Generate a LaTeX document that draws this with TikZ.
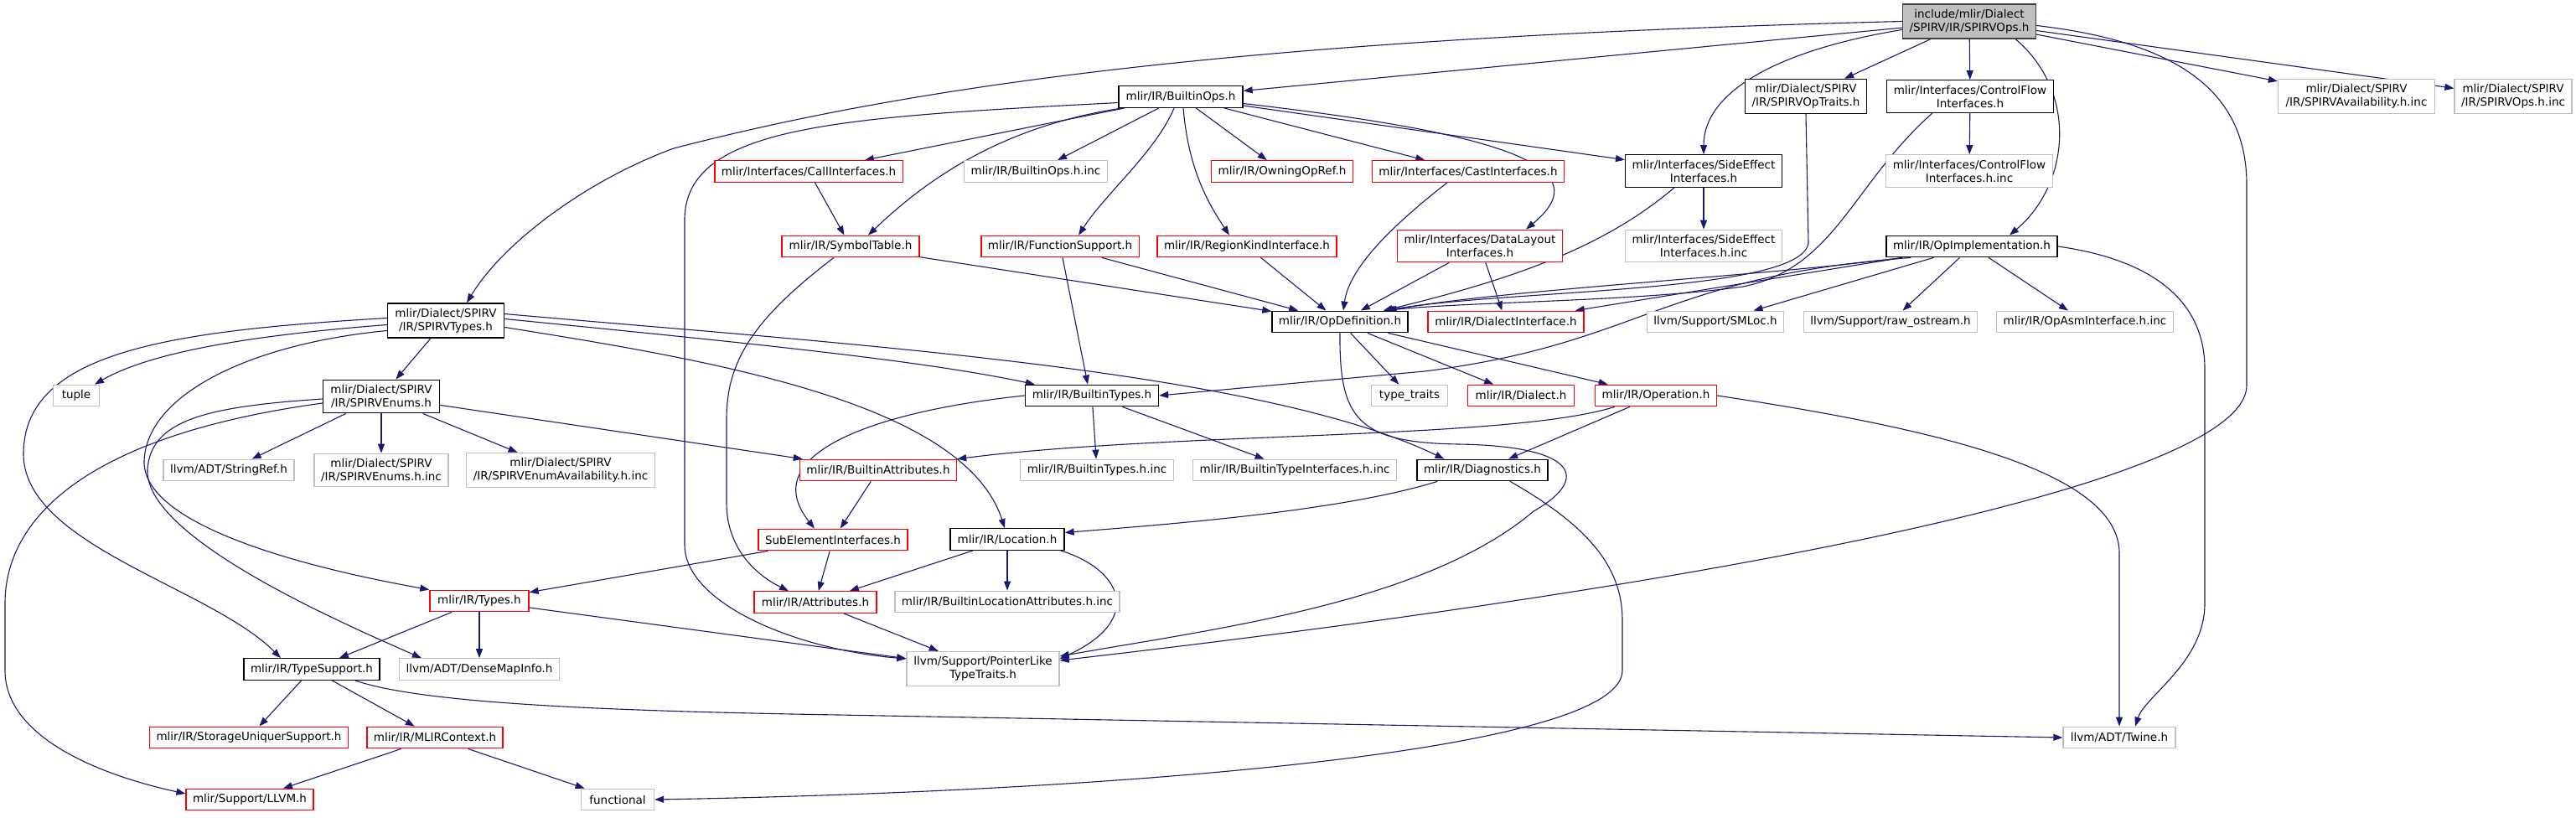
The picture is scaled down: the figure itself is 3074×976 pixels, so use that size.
\documentclass[tikz,border=0pt]{standalone}
\usepackage{fontspec}
\setmainfont{DejaVu Sans}
\usepackage{xcolor}
\usepackage{tikz}
\usetikzlibrary{arrows.meta,calc}

\definecolor{edgeblue}{HTML}{191970}
\definecolor{grey75}{HTML}{BFBFBF}
\pgfdeclarelayer{bg}
\pgfsetlayers{bg,main}

\begin{document}
\begin{tikzpicture}[x=1pt, y=-1pt,
  font=\fontsize{13.5pt}{16pt}\selectfont,
  file/.style={draw=black, line width=1.3pt, fill=white, align=center,
               inner xsep=8pt, inner ysep=6pt, minimum height=25.5pt},
  cutfile/.style={file, draw=red},
  sysfile/.style={file, draw=grey75},
  mainfile/.style={file, fill=grey75, draw=black!75},
  incl/.style={draw=edgeblue, line width=1.1pt, -{Triangle[length=11pt,width=8pt]}}]

\useasboundingbox (0,0) rectangle (3074,976);

% top
\node[mainfile, minimum width=158pt] (main) at (2350,25.5) {include/mlir/Dialect\\/SPIRV/IR/SPIRVOps.h};

\node[file, minimum width=148pt]    (builtinops)    at (1409,115.5) {mlir/IR/BuiltinOps.h};
\node[file, minimum width=145pt]    (spirvoptraits) at (2155,115) {mlir/Dialect/SPIRV\\/IR/SPIRVOpTraits.h};
\node[file, minimum width=198pt]    (cfiface)       at (2351,115) {mlir/Interfaces/ControlFlow\\Interfaces.h};
\node[sysfile, minimum width=187pt] (spirvavail)    at (2812,115) {mlir/Dialect/SPIRV\\/IR/SPIRVAvailability.h.inc};
\node[sysfile, minimum width=140pt] (spirvopsinc)   at (2999,115) {mlir/Dialect/SPIRV\\/IR/SPIRVOps.h.inc};

\node[cutfile, minimum width=221pt] (calliface)     at (965,204.5)  {mlir/Interfaces/CallInterfaces.h};
\node[sysfile, minimum width=170pt] (builtinopsinc) at (1236,204.5) {mlir/IR/BuiltinOps.h.inc};
\node[cutfile, minimum width=168pt] (owningopref)   at (1530,204.5) {mlir/IR/OwningOpRef.h};
\node[cutfile, minimum width=226pt] (castiface)     at (1752,204.5) {mlir/Interfaces/CastInterfaces.h};
\node[file, minimum width=186pt]    (sideeffect)    at (2033,204)   {mlir/Interfaces/SideEffect\\Interfaces.h};
\node[sysfile, minimum width=198pt] (cfinc)         at (2350,204)   {mlir/Interfaces/ControlFlow\\Interfaces.h.inc};

\node[cutfile, minimum width=164pt] (symboltable)   at (1015,294)   {mlir/IR/SymbolTable.h};
\node[cutfile, minimum width=186pt] (funcsupport)   at (1265,294)   {mlir/IR/FunctionSupport.h};
\node[cutfile, minimum width=212pt] (regionkind)    at (1488,294)   {mlir/IR/RegionKindInterface.h};
\node[cutfile, minimum width=197pt] (datalayout)    at (1766,293.5) {mlir/Interfaces/DataLayout\\Interfaces.h};
\node[sysfile, minimum width=186pt] (sideeffectinc) at (2033,293.5) {mlir/Interfaces/SideEffect\\Interfaces.h.inc};
\node[file, minimum width=204pt]    (opimpl)        at (2353,294)   {mlir/IR/OpImplementation.h};

\node[file, minimum width=139pt]    (spirvtypes)    at (532,382.5)  {mlir/Dialect/SPIRV\\/IR/SPIRVTypes.h};
\node[file, minimum width=162pt]    (opdef)         at (1599,384)   {mlir/IR/OpDefinition.h};
\node[cutfile, minimum width=186pt] (dialectiface)  at (1797,384)   {mlir/IR/DialectInterface.h};
\node[sysfile, minimum width=163pt] (smloc)         at (2047,384)   {llvm/Support/SMLoc.h};
\node[sysfile, minimum width=207pt] (rawostream)    at (2256,384)   {llvm/Support/raw\_ostream.h};
\node[sysfile, minimum width=210pt] (opasminc)      at (2488,384)   {mlir/IR/OpAsmInterface.h.inc};

\node[sysfile, minimum width=55pt]  (tuple)         at (91,472)     {tuple};
\node[file, minimum width=139pt]    (spirvenums)    at (455,473)    {mlir/Dialect/SPIRV\\/IR/SPIRVEnums.h};
\node[file, minimum width=159pt]    (builtintypes)  at (1303,472)   {mlir/IR/BuiltinTypes.h};
\node[sysfile, minimum width=91pt]  (typetraits)    at (1682,472)   {type\_traits};
\node[cutfile, minimum width=127pt] (dialect)       at (1815,472)   {mlir/IR/Dialect.h};
\node[cutfile, minimum width=145pt] (operation)     at (1976,472)   {mlir/IR/Operation.h};

\node[sysfile, minimum width=156pt] (stringref)        at (273,561)  {llvm/ADT/StringRef.h};
\node[sysfile, minimum width=158pt] (spirvenumsinc)    at (455,561)  {mlir/Dialect/SPIRV\\/IR/SPIRVEnums.h.inc};
\node[sysfile, minimum width=223pt] (spirvenumavail)   at (669,561)  {mlir/Dialect/SPIRV\\/IR/SPIRVEnumAvailability.h.inc};
\node[cutfile, minimum width=187pt] (builtinattrs)     at (1048,561) {mlir/IR/BuiltinAttributes.h};
\node[sysfile, minimum width=183pt] (builtintypesinc)  at (1309,561) {mlir/IR/BuiltinTypes.h.inc};
\node[sysfile, minimum width=241pt] (builtintypeiface) at (1545,561) {mlir/IR/BuiltinTypeInterfaces.h.inc};
\node[file, minimum width=156pt]    (diagnostics)      at (1769,561) {mlir/IR/Diagnostics.h};

\node[cutfile, minimum width=178pt] (subelem)       at (994,644)    {SubElementInterfaces.h};
\node[file, minimum width=136pt]    (location)      at (1202,643.5) {mlir/IR/Location.h};

\node[cutfile, minimum width=118pt] (types)         at (572,717)    {mlir/IR/Types.h};
\node[cutfile, minimum width=146pt] (attributes)    at (973,718.5)  {mlir/IR/Attributes.h};
\node[sysfile, minimum width=265pt] (builtinlocinc) at (1202,718)   {mlir/IR/BuiltinLocationAttributes.h.inc};

\node[file, minimum width=161pt]    (typesupport)   at (372,798.5)  {mlir/IR/TypeSupport.h};
\node[sysfile, minimum width=190pt] (densemapinfo)  at (572,798.5)  {llvm/ADT/DenseMapInfo.h};
\node[sysfile, minimum width=182pt] (pointerlike)   at (1173,798)   {llvm/Support/PointerLike\\TypeTraits.h};

\node[cutfile, minimum width=231pt] (storageuniquer) at (297,880)   {mlir/IR/StorageUniquerSupport.h};
\node[cutfile, minimum width=162pt] (mlircontext)    at (519,880)   {mlir/IR/MLIRContext.h};
\node[sysfile, minimum width=134pt] (twine)          at (2529,880)  {llvm/ADT/Twine.h};

\node[cutfile, minimum width=151pt] (llvm)           at (298,954)   {mlir/Support/LLVM.h};
\node[sysfile, minimum width=87pt]  (functional)     at (737,954)   {functional};

\begin{pgfonlayer}{bg}
\foreach \a/\b in {main/builtinops, main/spirvoptraits, main/cfiface, main/spirvavail, main/spirvopsinc,
    builtinops/calliface, builtinops/builtinopsinc, builtinops/owningopref, builtinops/castiface,
    builtinops/sideeffect, calliface/symboltable, cfiface/cfinc, sideeffect/sideeffectinc,
    regionkind/opdef, datalayout/opdef, datalayout/dialectiface, symboltable/opdef, funcsupport/opdef,
    opimpl/dialectiface, opimpl/smloc, opimpl/rawostream, opimpl/opasminc,
    spirvtypes/spirvenums, spirvenums/stringref, spirvenums/spirvenumsinc, spirvenums/spirvenumavail,
    spirvenums/builtinattrs, builtintypes/builtintypesinc, builtintypes/builtintypeiface,
    opdef/typetraits, opdef/dialect, opdef/operation, operation/diagnostics,
    location/attributes, location/builtinlocinc, subelem/types, subelem/attributes,
    builtinattrs/subelem, attributes/pointerlike, types/typesupport, types/densemapinfo,
    types/pointerlike, typesupport/storageuniquer, typesupport/mlircontext,
    mlircontext/llvm, mlircontext/functional}{
  \draw[incl] (\a) -- (\b);
}

% long ones from the main file
\draw[incl] (main.west) .. controls (1500,45) and (1100,100) .. (804,177)
  .. controls (700,215) and (600,290) .. ($(spirvtypes.north)+(25,0)$);
\draw[incl] ($(main.west)+(0,10)$) .. controls (2120,60) and (2033,110) .. (sideeffect.north);
\draw[incl] ($(main.south east)+(-25,0)$) .. controls (2480,110) and (2470,220) .. ($(opimpl.north)+(45,0)$);
\draw[incl] ($(main.east)+(0,5)$) .. controls (2600,50) and (2681,110) .. (2681,220) -- (2681,460)
  .. controls (2681,560) and (2200,680) .. ($(pointerlike.east)+(0,-10)$);

% BuiltinOps.h
\draw[incl] ($(builtinops.east)+(0,8)$) .. controls (1800,160) and (1910,200) .. ($(datalayout.north)+(55,0)$);
\draw[incl] ($(builtinops.south)+(3,0)$) .. controls (1418,200) and (1440,240) .. ($(regionkind.north)+(-21,0)$);
\draw[incl] ($(builtinops.south)+(-8,0)$) .. controls (1380,180) and (1320,230) .. ($(funcsupport.north)+(22,0)$);
\draw[incl] ($(builtinops.south west)+(5,0)$) .. controls (1200,150) and (1110,210) .. ($(symboltable.north)+(21,0)$);
\draw[incl] ($(builtinops.west)+(0,7)$) .. controls (1000,140) and (820,150) .. (817,260) -- (817,650)
  .. controls (817,720) and (950,775) .. ($(pointerlike.west)+(0,-12)$);

% into OpDefinition.h
\draw[incl] (spirvoptraits.south) -- (2158,290) .. controls (2150,350) and (1800,345) .. ($(opdef.north east)+(-28,0)$);
\draw[incl] ($(cfiface.south)+(-45,0)$) .. controls (2210,220) and (2190,320) .. (2080,342)
  .. controls (1950,360) and (1750,360) .. ($(opdef.north east)+(-28,0)$);
\draw[incl] ($(sideeffect.south)+(-35,0)$) .. controls (1920,290) and (1820,330) .. ($(opdef.north east)+(-30,0)$);
\draw[incl] ($(opimpl.south west)+(20,0)$) .. controls (2100,330) and (1800,345) .. ($(opdef.north east)+(-25,0)$);
\draw[incl] ($(castiface.south)+(-25,0)$) .. controls (1660,270) and (1610,320) .. ($(opdef.north)+(4,0)$);

% OpImplementation.h
\draw[incl] ($(opimpl.south west)+(30,0)$) .. controls (1980,330) and (1960,410) .. (1700,443) -- (builtintypes.east);
\draw[incl] (opimpl.east) .. controls (2570,310) and (2631,360) .. (2631,440) -- (2631,720)
  .. controls (2631,790) and (2560,830) .. ($(twine.north)+(19,0)$);

% SymbolTable.h, FunctionSupport.h
\draw[incl] ($(symboltable.south)+(-20,0)$) .. controls (900,380) and (867,430) .. (867,500) -- (867,600)
  .. controls (867,660) and (910,690) .. ($(attributes.north)+(-32,0)$);
\draw[incl] ($(funcsupport.south)+(3,0)$) -- ($(builtintypes.north)+(-5,0)$);

% SPIRVTypes.h
\draw[incl] ($(spirvtypes.west)+(0,5)$) .. controls (300,400) and (180,420) .. ($(tuple.north)+(22,0)$);
\draw[incl] ($(spirvtypes.west)+(0,-3)$) .. controls (200,395) and (30,420) .. (28,540)
  .. controls (26,650) and (250,700) .. ($(typesupport.north)+(-37,0)$);
\draw[incl] ($(spirvtypes.west)+(0,12)$) .. controls (300,410) and (175,470) .. (172,550)
  .. controls (170,630) and (380,680) .. (types.north west);
\draw[incl] ($(spirvtypes.east)+(0,-2)$) .. controls (900,410) and (1100,430) .. ($(builtintypes.north west)+(12,0)$);
\draw[incl] ($(spirvtypes.east)+(0,-8)$) .. controls (1000,410) and (1500,440) .. ($(diagnostics.north west)+(33,0)$);
\draw[incl] ($(spirvtypes.east)+(0,8)$) .. controls (850,430) and (1150,480) .. ($(location.north)+(-3,0)$);

% SPIRVEnums.h
\draw[incl] ($(spirvenums.west)+(0,3)$) .. controls (250,485) and (180,500) .. (176,560)
  .. controls (172,640) and (400,740) .. ($(densemapinfo.north west)+(27,0)$);
\draw[incl] ($(spirvenums.west)+(0,8)$) .. controls (100,520) and (6,620) .. (6,720) -- (6,800)
  .. controls (6,880) and (120,925) .. ($(llvm.west)+(0,-7)$);

% BuiltinTypes.h, OpDefinition.h, Operation.h
\draw[incl] (builtintypes.west) .. controls (1050,490) and (900,540) .. ($(subelem.north)+(-22,0)$);
\draw[incl] (opdef.south) .. controls (1598,500) and (1620,528) .. (1740,530)
  .. controls (1880,532) and (1900,570) .. (1830,610)
  .. controls (1700,720) and (1450,750) .. ($(pointerlike.east)+(0,-15)$);
\draw[incl] ($(operation.south west)+(24,0)$) .. controls (1800,525) and (1400,515) .. (builtinattrs.north east);
\draw[incl] (operation.east) .. controls (2300,510) and (2529,560) .. (2529,660) -- (twine.north);

% Diagnostics.h, Location.h, TypeSupport.h
\draw[incl] ($(diagnostics.south west)+(25,0)$) .. controls (1600,610) and (1400,625) .. ($(location.east)+(0,-8)$);
\draw[incl] ($(diagnostics.south)+(33,0)$) .. controls (1900,630) and (1936,680) .. (1936,740) -- (1936,800)
  .. controls (1936,900) and (1300,945) .. (functional.east);
\draw[incl] ($(location.south east)+(-5,0)$) .. controls (1340,680) and (1365,740) .. ($(pointerlike.east)+(0,-12)$);
\draw[incl] ($(typesupport.south east)+(-30,0)$) .. controls (500,838) and (700,848) .. (1000,853) -- (twine.west);
\end{pgfonlayer}
\end{tikzpicture}
\end{document}
